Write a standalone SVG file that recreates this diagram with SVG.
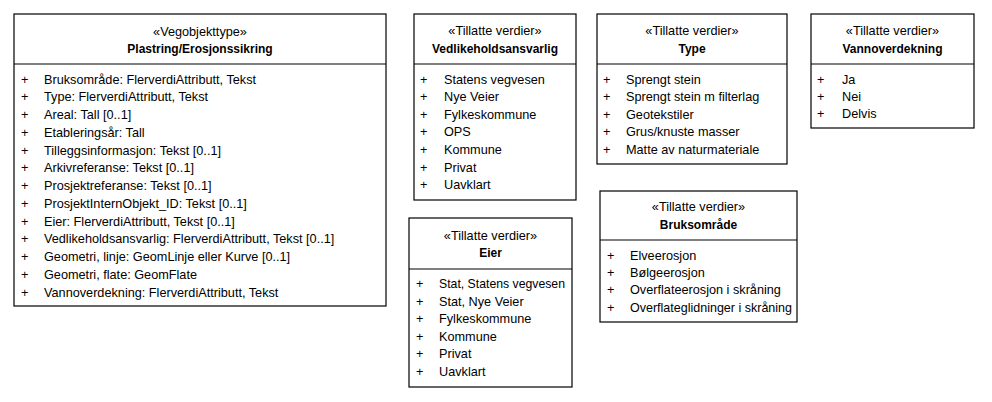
<svg xmlns="http://www.w3.org/2000/svg" width="992" height="402" viewBox="0 0 992 402">
<style>
text{font-family:"Liberation Sans",Arial,sans-serif;font-size:12.7px;fill:#000}
.h{text-anchor:middle}
.b{font-weight:bold;font-size:12px}
.box{fill:#fff;stroke:#000;stroke-width:1.2}
.bg{fill:#fff;stroke:none}
line{stroke:#000;stroke-width:1.2}
</style>
<rect class="bg" x="0" y="0" width="992" height="402"/>
<g id="plastring">
<rect class="box" x="14" y="14" width="372" height="292"/>
<line x1="14" y1="64" x2="386" y2="64"/>
<text class="h" x="200" y="36">«Vegobjekttype»</text>
<text class="h b" x="200" y="53">Plastring/Erosjonssikring</text>
<g>
<text x="21" y="83.5">+</text><text x="44" y="83.5">Bruksområde: FlerverdiAttributt, Tekst</text>
<text x="21" y="101.3">+</text><text x="44" y="101.3">Type: FlerverdiAttributt, Tekst</text>
<text x="21" y="119">+</text><text x="44" y="119">Areal: Tall [0..1]</text>
<text x="21" y="136.8">+</text><text x="44" y="136.8">Etableringsår: Tall</text>
<text x="21" y="154.5">+</text><text x="44" y="154.5">Tilleggsinformasjon: Tekst [0..1]</text>
<text x="21" y="172.3">+</text><text x="44" y="172.3">Arkivreferanse: Tekst [0..1]</text>
<text x="21" y="190">+</text><text x="44" y="190">Prosjektreferanse: Tekst [0..1]</text>
<text x="21" y="207.8">+</text><text x="44" y="207.8">ProsjektInternObjekt_ID: Tekst [0..1]</text>
<text x="21" y="225.5">+</text><text x="44" y="225.5">Eier: FlerverdiAttributt, Tekst [0..1]</text>
<text x="21" y="243.3">+</text><text x="44" y="243.3">Vedlikeholdsansvarlig: FlerverdiAttributt, Tekst [0..1]</text>
<text x="21" y="261">+</text><text x="44" y="261">Geometri, linje: GeomLinje eller Kurve [0..1]</text>
<text x="21" y="278.8">+</text><text x="44" y="278.8">Geometri, flate: GeomFlate</text>
<text x="21" y="296.5">+</text><text x="44" y="296.5">Vannoverdekning: FlerverdiAttributt, Tekst</text>
</g>
</g>
<g id="vedlikeholdsansvarlig">
<rect class="box" x="414" y="14" width="162" height="186"/>
<line x1="414" y1="64" x2="576" y2="64"/>
<text class="h" x="495" y="35">«Tillatte verdier»</text>
<text class="h b" x="495" y="53">Vedlikeholdsansvarlig</text>
<text x="420" y="83.5">+</text><text x="444" y="83.5">Statens vegvesen</text>
<text x="420" y="101.1">+</text><text x="444" y="101.1">Nye Veier</text>
<text x="420" y="118.7">+</text><text x="444" y="118.7">Fylkeskommune</text>
<text x="420" y="136.3">+</text><text x="444" y="136.3">OPS</text>
<text x="420" y="153.9">+</text><text x="444" y="153.9">Kommune</text>
<text x="420" y="171.5">+</text><text x="444" y="171.5">Privat</text>
<text x="420" y="189.1">+</text><text x="444" y="189.1">Uavklart</text>
</g>
<g id="type">
<rect class="box" x="597" y="14" width="190" height="150"/>
<line x1="597" y1="64" x2="787" y2="64"/>
<text class="h" x="692" y="35">«Tillatte verdier»</text>
<text class="h b" x="692" y="53">Type</text>
<text x="603" y="83.5">+</text><text x="626" y="83.5">Sprengt stein</text>
<text x="603" y="101.1">+</text><text x="626" y="101.1">Sprengt stein m filterlag</text>
<text x="603" y="118.7">+</text><text x="626" y="118.7">Geotekstiler</text>
<text x="603" y="136.3">+</text><text x="626" y="136.3">Grus/knuste masser</text>
<text x="603" y="153.9">+</text><text x="626" y="153.9">Matte av naturmateriale</text>
</g>
<g id="vannoverdekning">
<rect class="box" x="811" y="14" width="163" height="114"/>
<line x1="811" y1="64" x2="974" y2="64"/>
<text class="h" x="892.5" y="35">«Tillatte verdier»</text>
<text class="h b" x="892.5" y="53">Vannoverdekning</text>
<text x="817" y="83.5">+</text><text x="842" y="83.5">Ja</text>
<text x="817" y="100.5">+</text><text x="842" y="100.5">Nei</text>
<text x="817" y="117.5">+</text><text x="842" y="117.5">Delvis</text>
</g>
<g id="eier">
<rect class="box" x="409" y="218" width="163" height="169"/>
<line x1="409" y1="269" x2="572" y2="269"/>
<text class="h" x="490.5" y="240">«Tillatte verdier»</text>
<text class="h b" x="490.5" y="257">Eier</text>
<text x="416" y="288">+</text><text x="439" y="288" textLength="126" lengthAdjust="spacingAndGlyphs">Stat, Statens vegvesen</text>
<text x="416" y="305.5">+</text><text x="439" y="305.5">Stat, Nye Veier</text>
<text x="416" y="323">+</text><text x="439" y="323">Fylkeskommune</text>
<text x="416" y="340.6">+</text><text x="439" y="340.6">Kommune</text>
<text x="416" y="358.1">+</text><text x="439" y="358.1">Privat</text>
<text x="416" y="375.6">+</text><text x="439" y="375.6">Uavklart</text>
</g>
<g id="bruksomrade">
<rect class="box" x="600" y="191" width="197" height="131"/>
<line x1="600" y1="240" x2="797" y2="240"/>
<text class="h" x="698.5" y="211">«Tillatte verdier»</text>
<text class="h b" x="698.5" y="228.5">Bruksområde</text>
<text x="607" y="259.5">+</text><text x="630" y="259.5">Elveerosjon</text>
<text x="607" y="276.9">+</text><text x="630" y="276.9">Bølgeerosjon</text>
<text x="607" y="294.3">+</text><text x="630" y="294.3">Overflateerosjon i skråning</text>
<text x="607" y="311.7">+</text><text x="630" y="311.7" textLength="162" lengthAdjust="spacingAndGlyphs">Overflateglidninger i skråning</text>
</g>
<g id="connectors"/>
</svg>
